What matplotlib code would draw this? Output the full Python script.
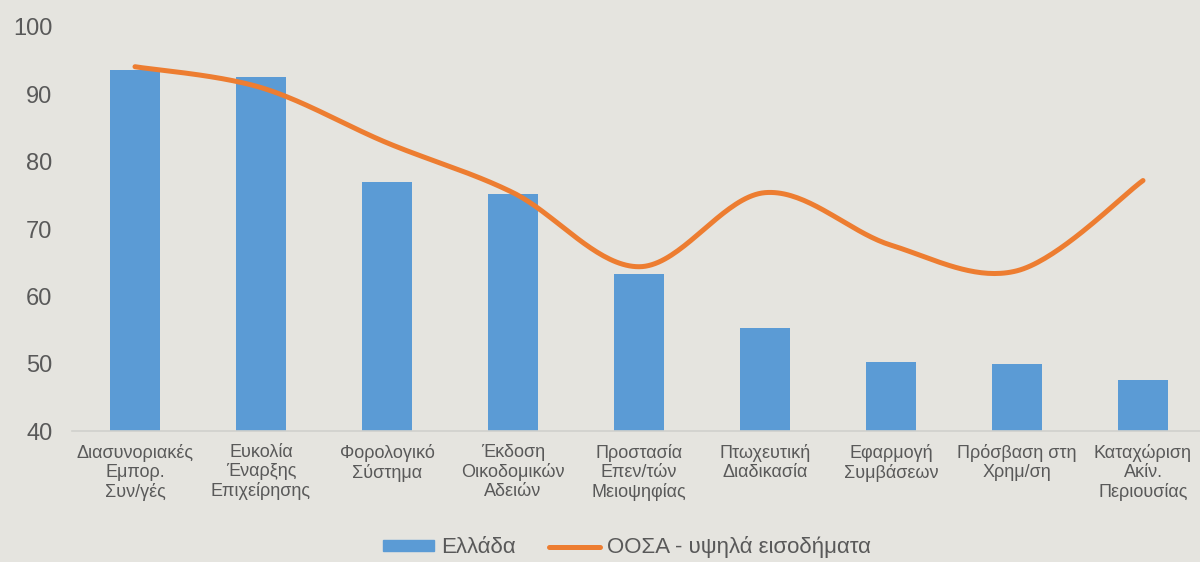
import numpy as np
import matplotlib.pyplot as plt
from matplotlib.lines import Line2D
from matplotlib.patches import Patch

plt.rcParams['font.family'] = ['Liberation Sans', 'DejaVu Sans']

categories = ['Διασυνοριακές\nΕμπορ.\nΣυν/γές', 'Ευκολία\nΈναρξης\nΕπιχείρησης',
              'Φορολογικό\nΣύστημα', 'Έκδοση\nΟικοδομικών\nΑδειών',
              'Προστασία\nΕπεν/τών\nΜειοψηφίας', 'Πτωχευτική\nΔιαδικασία',
              'Εφαρμογή\nΣυμβάσεων', 'Πρόσβαση στη\nΧρημ/ση',
              'Καταχώριση\nΑκίν.\nΠεριουσίας']
greece = [93.6, 92.5, 77.0, 75.2, 63.3, 55.3, 50.3, 50.0, 47.6]
oecd = [94.1, 91.0, 82.8, 75.4, 64.4, 75.4, 67.6, 63.8, 77.2]
yticks = [40, 50, 60, 70, 80, 90, 100]

bg = '#E5E4DF'
blue = '#5B9BD5'
orange = '#ED7D31'
grey = '#595959'


def smooth(xs, ys, n=40):
    # bezier smoothing like the spreadsheet "smoothed line"
    p = np.column_stack([xs, ys]).astype(float)
    ext = np.vstack([p[0], p, p[-1]])
    out = []
    t = np.linspace(0, 1, n)[:, None]
    for i in range(len(p) - 1):
        p0, p3 = ext[i + 1], ext[i + 2]
        c1 = p0 + (ext[i + 2] - ext[i]) / 6
        c2 = p3 - (ext[i + 3] - ext[i + 1]) / 6
        seg = ((1 - t) ** 3) * p0 + 3 * ((1 - t) ** 2) * t * c1 + 3 * (1 - t) * t ** 2 * c2 + t ** 3 * p3
        out.append(seg if i == 0 else seg[1:])
    out = np.vstack(out)
    return out[:, 0], out[:, 1]


fig = plt.figure(figsize=(12, 5.62), dpi=100, facecolor=bg)
ax = fig.add_axes([0.06, 0.233, 0.945, 0.719], facecolor=bg)

x = np.arange(len(categories))
ax.bar(x, [g - 40 for g in greece], bottom=40, width=0.4, color=blue, zorder=2)
sx, sy = smooth(x, oecd)
ax.plot(sx, sy, color=orange, lw=3.6, solid_capstyle='round', zorder=3)

ax.set_xlim(-0.5, 8.5)
ax.set_ylim(40, 100)
ax.set_yticks(yticks)
ax.set_yticklabels([str(v) for v in yticks], fontsize=17, color=grey)
ax.set_xticks(x)
ax.set_xticklabels(categories, fontsize=13, color=grey, linespacing=1.15)
ax.tick_params(axis='y', length=0, pad=14)
ax.tick_params(axis='x', length=0, pad=9)
for s in ['top', 'right', 'left']:
    ax.spines[s].set_visible(False)
ax.spines['bottom'].set_color('#D0D0CC')
ax.spines['bottom'].set_linewidth(1.2)

handles = [Patch(color=blue, label='Ελλάδα'),
           Line2D([0], [0], color=orange, lw=3.6, solid_capstyle='round',
                  label='ΟΟΣΑ - υψηλά εισοδήματα')]
leg = fig.legend(handles=handles, loc='center', bbox_to_anchor=(0.5225, 0.026), ncol=2,
                 frameon=False, fontsize=16, handlelength=2.3, handleheight=0.37,
                 columnspacing=1.5, handletextpad=0.3, borderpad=0)
for t in leg.get_texts():
    t.set_color(grey)

fig.savefig('out.png', dpi=100, facecolor=bg)
